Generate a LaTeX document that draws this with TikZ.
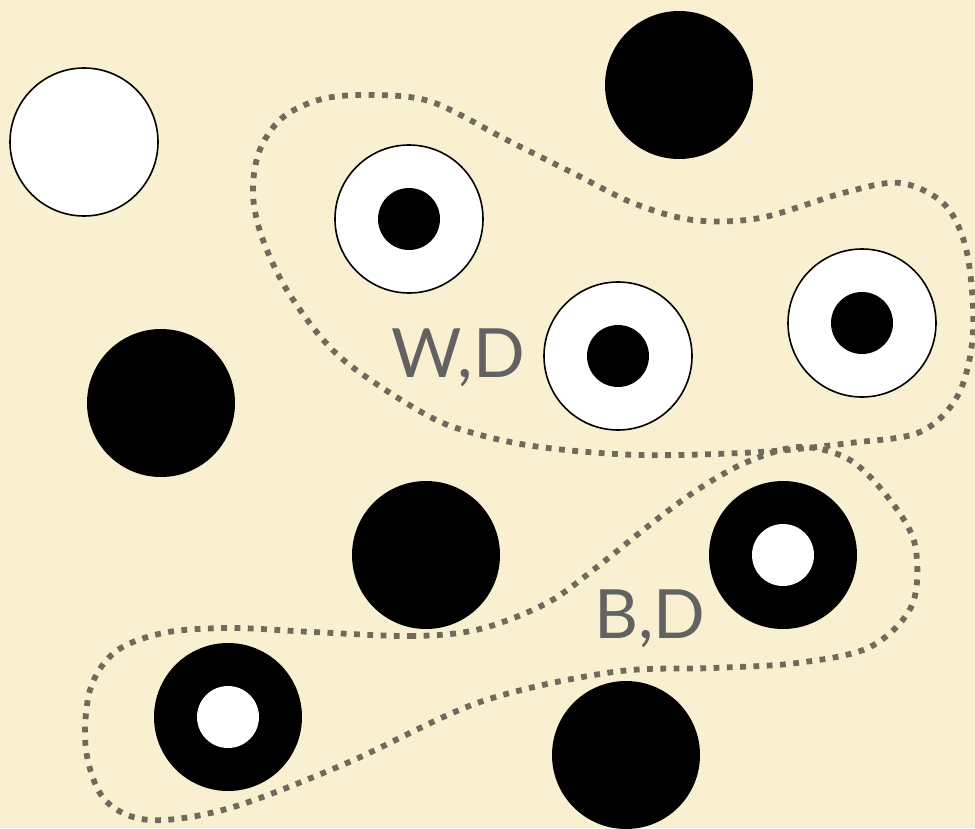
\documentclass[tikz,border=0pt]{standalone}
\usepackage{fontspec}
\setmainfont{Lato}
\definecolor{bgc}{HTML}{F9F0D2}
\definecolor{dotc}{HTML}{6F6A5C}
\definecolor{labc}{HTML}{626262}
\begin{document}
\begin{tikzpicture}[x=1pt,y=-1pt,
  wstone/.style={circle,draw=black,line width=1.6pt,fill=white,inner sep=0pt,minimum size=148pt},
  bstone/.style={circle,fill=black,inner sep=0pt,minimum size=148pt},
  bdot/.style={circle,fill=black,inner sep=0pt,minimum size=62pt},
  wdot/.style={circle,fill=white,inner sep=0pt,minimum size=62pt},
  region/.style={draw=dotc,line width=5.8pt,dash pattern=on 5.8pt off 7.5pt},
  lab/.style={anchor=base,text=labc,font=\fontsize{68}{70}\selectfont,inner sep=0pt}]
\fill[bgc] (0,0) rectangle (975,828);
\useasboundingbox (0,0) rectangle (975,828);
% regions
\draw[region] plot[smooth cycle,tension=0.55] coordinates {
  (253,195) (259,152) (282,118) (322,99) (373,95) (432,102) (507,140)
  (573,173) (633,203) (693,220) (760,218) (843,193) (900,183) (945,205)
  (967,253) (973,333) (958,395) (920,432) (850,443) (760,452) (640,455)
  (540,447) (473,433) (423,413) (340,357) (290,295) (263,240)};
\draw[region] plot[smooth cycle,tension=0.55] coordinates {
  (480,629) (413,636) (313,632) (230,628) (163,633) (115,652) (90,690)
  (86,750) (105,800) (150,820) (230,808) (347,763) (480,702) (613,672)
  (713,668) (797,663) (870,647) (912,605) (915,545) (890,500) (850,460)
  (800,447) (747,462) (697,490) (647,527) (597,567) (547,603)};
% stones
\node[wstone] (w1) at (84,142) {};
\node[bstone] (b1) at (679,85) {};
\node[wstone] (wd1) at (409,219) {};
\node[bdot] (wd1c) at (409,219) {};
\node[wstone] (wd2) at (618,356) {};
\node[bdot] (wd2c) at (618,356) {};
\node[wstone] (wd3) at (862,323) {};
\node[bdot] (wd3c) at (862,323) {};
\node[bstone] (b2) at (161,403) {};
\node[bstone] (b3) at (426,555) {};
\node[bstone] (bd1) at (783,555) {};
\node[wdot] (bd1c) at (783,555) {};
\node[bstone] (bd2) at (228,717) {};
\node[wdot] (bd2c) at (228,717) {};
\node[bstone] (b4) at (626,755) {};
% labels
\node[lab] (lwd) at (458,377) {W,D};
\node[lab] (lbd) at (650,638) {B,D};
\end{tikzpicture}
\end{document}
